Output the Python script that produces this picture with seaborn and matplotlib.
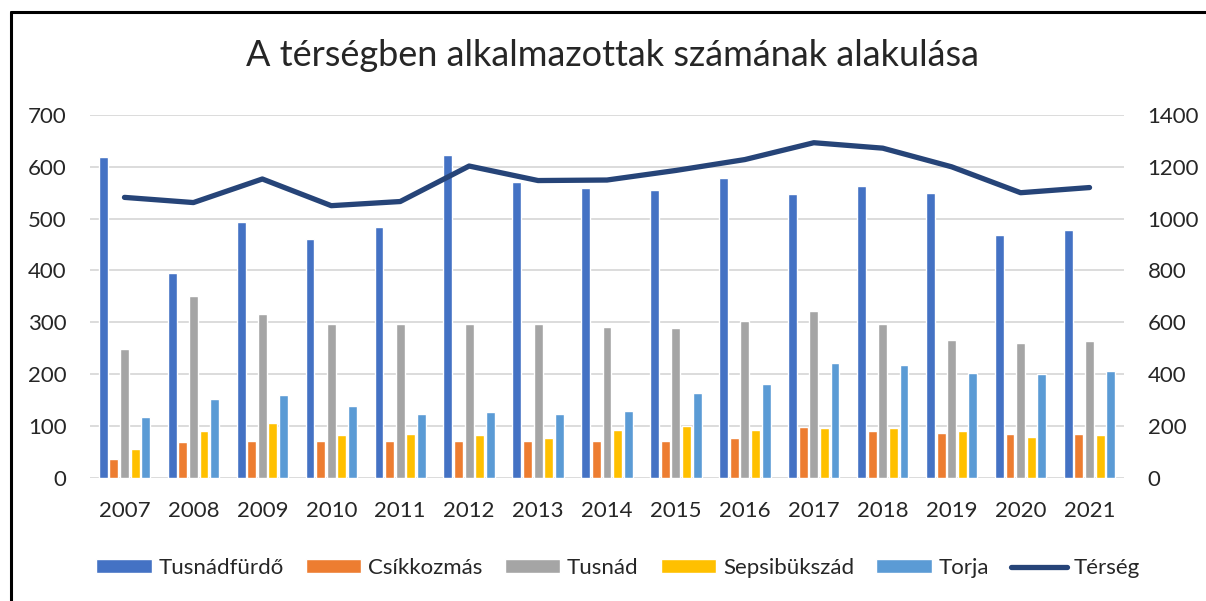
import matplotlib
matplotlib.use("Agg")
import matplotlib.pyplot as plt
from matplotlib.lines import Line2D
import numpy as np
import pandas as pd
import seaborn as sns

years = ["2007", "2008", "2009", "2010", "2011", "2012", "2013", "2014",
         "2015", "2016", "2017", "2018", "2019", "2020", "2021"]
tusnadfurdo = [618, 395, 493, 460, 483, 623, 571, 559, 556, 579, 548, 563, 550, 468, 478]
csikkozmas = [37, 68, 71, 71, 71, 71, 71, 71, 71, 76, 97, 90, 87, 84, 84]
tusnad = [248, 351, 315, 297, 297, 297, 297, 291, 289, 302, 322, 297, 266, 260, 263]
sepsibukszad = [55, 90, 105, 82, 84, 82, 77, 92, 100, 92, 95, 95, 90, 79, 82]
torja = [118, 151, 159, 138, 123, 126, 123, 128, 164, 180, 221, 218, 203, 200, 205]
terseg = [1082, 1062, 1153, 1050, 1066, 1203, 1147, 1149, 1186, 1228, 1293, 1272, 1200, 1100, 1120]

series_names = ["Tusnádfürdő", "Csíkkozmás", "Tusnád", "Sepsibükszád", "Torja"]
series_vals = [tusnadfurdo, csikkozmas, tusnad, sepsibukszad, torja]
colors = ["#4472C4", "#ED7D31", "#A5A5A5", "#FFC000", "#5B9BD5"]
line_name = "Térség"
line_color = "#264478"
title = "A térségben alkalmazottak számának alakulása"

sns.set_style("white")
plt.rcParams["font.family"] = ["Lato", "DejaVu Sans"]

df = pd.DataFrame({
    "year": np.tile(years, len(series_names)),
    "value": np.concatenate(series_vals),
    "series": np.repeat(series_names, len(years)),
})

W, H = 1206, 601
fig = plt.figure(figsize=(W / 100, H / 100), dpi=100)
x0, x1, y0, y1 = 90, 1124, 115, 477.7
ax = fig.add_axes([x0 / W, 1 - y1 / H, (x1 - x0) / W, (y1 - y0) / H])

sns.barplot(data=df, x="year", y="value", hue="series", hue_order=series_names,
            palette=colors, order=years, width=0.77, gap=0.16, ax=ax,
            saturation=1, legend=True)
ax.set_xlim(-0.5, len(years) - 0.5)
ax.set_ylim(0, 700)
ax.set_yticks(range(0, 701, 100))
ax.set_xlabel("")
ax.set_ylabel("")
ax.yaxis.grid(True, color="#D9D9D9", linewidth=1.3)
ax.set_axisbelow(True)
for s in ax.spines.values():
    s.set_visible(False)
ax.tick_params(axis="both", length=0, labelsize=16, colors="#262626")
ax.tick_params(axis="y", pad=17)
ax.tick_params(axis="x", pad=17)

handles, labels = ax.get_legend_handles_labels()
ax.get_legend().remove()

ax2 = ax.twinx()
sns.lineplot(x=np.arange(len(years)), y=terseg, ax=ax2, color=line_color,
             linewidth=3.8, solid_capstyle="round", legend=False)
ax2.set_ylim(0, 1400)
ax2.set_yticks(range(0, 1401, 200))
for s in ax2.spines.values():
    s.set_visible(False)
ax2.tick_params(axis="y", length=0, labelsize=16, colors="#262626", pad=17)
ax2.set_xlim(-0.5, len(years) - 0.5)

lh = Line2D([0], [0], color=line_color, linewidth=3.8, solid_capstyle="round")
handles = list(handles) + [lh]
labels = list(labels) + [line_name]
fig.legend(handles, labels, loc="center", bbox_to_anchor=(618 / W, 1 - 568 / H),
           ncol=6, frameon=False, fontsize=16, handlelength=2.5, handleheight=0.6,
           handletextpad=0.3, columnspacing=1.0, labelcolor="#262626")

fig.text(612 / W, 1 - 55 / H, title, ha="center", va="center", fontsize=26,
         color="#262626")

# outer frame (chart border)
fig.add_artist(Line2D([10.5 / W, 10.5 / W], [0, 1 - 11.5 / H], color="black",
                      linewidth=2.2, transform=fig.transFigure))
fig.add_artist(Line2D([10.5 / W, 1], [1 - 11.5 / H, 1 - 11.5 / H], color="black",
                      linewidth=2.2, transform=fig.transFigure))

fig.savefig("out.png", dpi=100)
